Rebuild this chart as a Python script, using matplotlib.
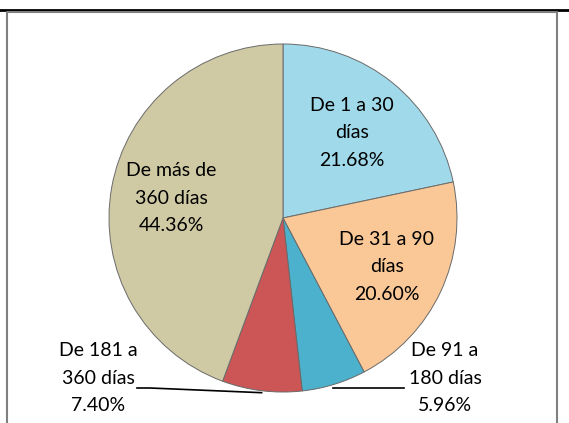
import numpy as np
import matplotlib
matplotlib.use("Agg")
import matplotlib.pyplot as plt
from matplotlib.lines import Line2D

# Data
categories = ["De 1 a 30\ndías", "De 31 a 90\ndías", "De 91 a\n180 días",
              "De 181 a\n360 días", "De más de\n360 días"]
shares = [21.68, 20.60, 5.96, 7.40, 44.36]
colors = ["#A0DAEA", "#FAC896", "#4BB1CD", "#CC5555", "#CFCAA4"]

W, H = 569, 423
CX, CY, R = 283, H - 218, 174


def main():
    plt.rcParams['font.family'] = ['Lato', 'DejaVu Sans']
    fig = plt.figure(figsize=(W / 100, H / 100), dpi=100)
    ax = fig.add_axes([0, 0, 1, 1])

    explode = [0, 0, 0.015, 0.025, 0]
    wedges, _ = ax.pie(shares, colors=colors, startangle=90, counterclock=False,
                       center=(CX, CY), radius=R, explode=explode,
                       wedgeprops=dict(edgecolor='#6a6a6a', linewidth=0.7),
                       frame=True)
    ax.set_xlim(0, W)
    ax.set_ylim(0, H)
    ax.set_aspect('equal')
    ax.axis('off')

    fs, ls = 14, 1.75
    # label placement: radius factor for inside labels, text pos for outside
    inside = {0: 0.63, 1: 0.66, 4: 0.65}
    outside = {2: (445, H - 378), 3: (98, H - 378)}

    for i, w in enumerate(wedges):
        mid = np.deg2rad((w.theta1 + w.theta2) / 2)
        txt = f"{categories[i]}\n{shares[i]:.2f}%"
        if i in inside:
            r = inside[i] * R
            ax.text(CX + r * np.cos(mid), CY + r * np.sin(mid), txt,
                    ha='center', va='center', fontsize=fs, linespacing=ls)
        else:
            tx, ty = outside[i]
            ax.text(tx, ty, txt, ha='center', va='center', fontsize=fs,
                    linespacing=ls)
            ex = CX + (R + 2) * np.cos(mid)
            ey = CY + (R + 2) * np.sin(mid)
            if i == 3:
                ax.plot([137, 150, ex], [H - 388, H - 388, ey], color='black', lw=1.2)
            else:
                ax.plot([ex - 2, 404], [H - 388, H - 388], color='black', lw=1.2)

    # frame like the surrounding table cell
    fig.add_artist(Line2D([0, 1], [1 - 10 / H, 1 - 10 / H], color='black', lw=2))
    fig.add_artist(Line2D([7 / W, 7 / W, 557 / W, 557 / W],
                          [0, 1 - 12 / H, 1 - 12 / H, 0], color='#808080', lw=1.5))

    fig.savefig("out.png", dpi=100)
    plt.close(fig)


if __name__ == "__main__":
    main()
